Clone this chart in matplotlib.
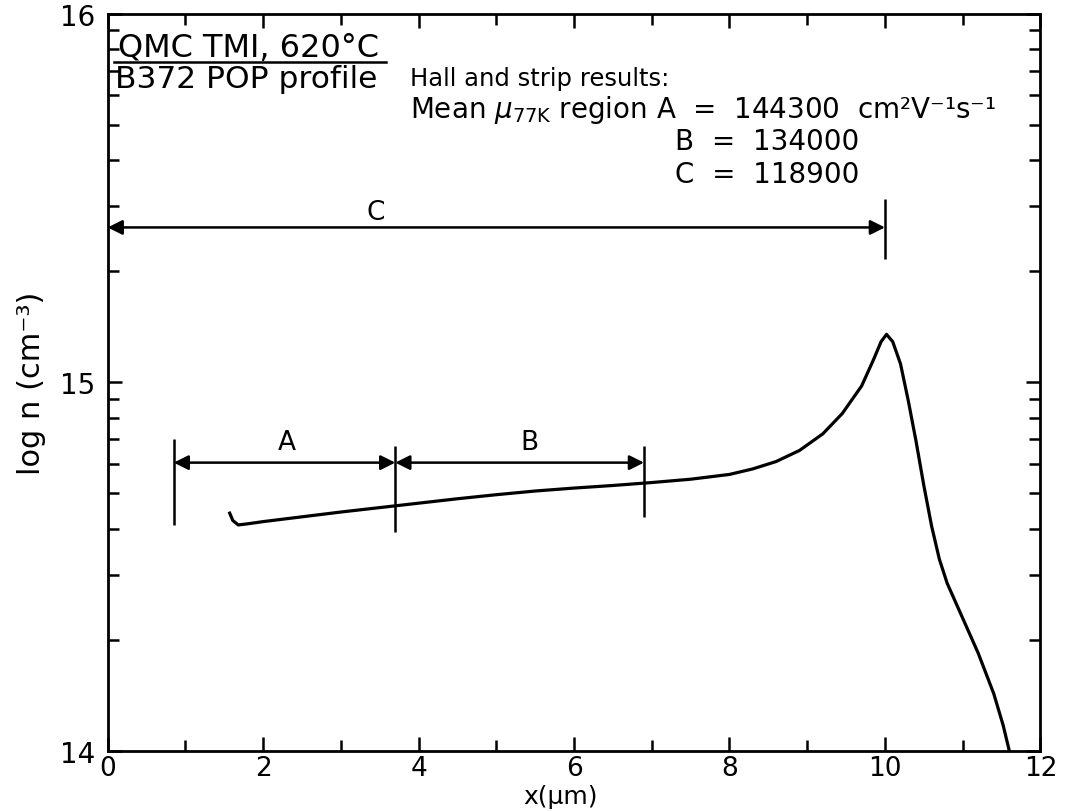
##POP profile chart, log n vs depth

#PACKAGES

import numpy as np
import matplotlib
matplotlib.use("Agg")
import matplotlib.pyplot as plt
from matplotlib.ticker import FixedLocator, LogLocator, NullFormatter, FuncFormatter

#DATA

# depth (um) and log10 of carrier concentration
depth_um = [1.57, 1.61, 1.68, 1.8, 2.0, 2.5, 3.0, 3.5, 4.0, 4.5, 5.0, 5.5, 6.0, 6.5, 7.0,
            7.5, 8.0, 8.3, 8.6, 8.9, 9.2, 9.45, 9.7, 9.85, 9.95, 10.02, 10.1, 10.2,
            10.3, 10.4, 10.5, 10.6, 10.7, 10.8, 11.0, 11.2, 11.4, 11.52, 11.6]
log_n = [14.645, 14.625, 14.613, 14.616, 14.622, 14.635, 14.648, 14.66, 14.672, 14.684,
         14.695, 14.705, 14.713, 14.72, 14.728, 14.737, 14.75, 14.765, 14.785, 14.815,
         14.86, 14.915, 14.99, 15.06, 15.11, 15.13, 15.11, 15.05, 14.95, 14.84, 14.72,
         14.61, 14.52, 14.455, 14.36, 14.265, 14.155, 14.07, 14.0]

# region bounds (um)
region_a = [0.85, 3.7]
region_b = [3.7, 6.9]
region_c = [0.0, 10.0]

results_title = "Hall and strip results:"
mobility = {"A": "144300", "B": "134000", "C": "118900"}

#CHART

plt.rcParams["font.family"] = ["DejaVu Sans"]
plt.rcParams["mathtext.fontset"] = "dejavusans"

fig = plt.figure(figsize=(10.66, 8.12), dpi=100)
ax = fig.add_axes([0.101, 0.074, 0.875, 0.908])

n = 10 ** np.array(log_n)
ax.plot(depth_um, n, color="black", lw=2.3)

ax.set_xlim(0, 12)
ax.set_yscale("log")
ax.set_ylim(1e14, 1e16)

ax.xaxis.set_major_locator(FixedLocator(np.arange(0, 13, 2)))
ax.xaxis.set_minor_locator(FixedLocator(np.arange(1, 12, 2)))
ax.yaxis.set_major_locator(FixedLocator([1e14, 1e15, 1e16]))
ax.yaxis.set_minor_locator(LogLocator(base=10, subs=np.arange(2, 10)))
ax.yaxis.set_minor_formatter(NullFormatter())
ax.yaxis.set_major_formatter(FuncFormatter(lambda v, p: f"{int(round(np.log10(v)))}"))

ax.tick_params(which="both", direction="in", top=True, right=True, width=1.8)
ax.tick_params(axis="x", pad=3, labelsize=19)
ax.tick_params(axis="y", pad=9, labelsize=20)
ax.tick_params(which="major", length=10)
ax.tick_params(which="minor", length=8)
for s in ax.spines.values():
    s.set_linewidth(2)

ax.set_xlabel("x(μm)", fontsize=18, va="bottom")
ax.xaxis.set_label_coords(0.485, -0.0775)
ax.set_ylabel("log n (cm⁻³)", fontsize=22)
ax.yaxis.set_label_coords(-0.066, 0.5)

# region markers
arrow = dict(arrowstyle="<|-|>", color="black", lw=1.8, mutation_scale=22,
             shrinkA=0, shrinkB=0)
y_ab = 10 ** 14.782
ax.vlines([region_a[0]], 10 ** 14.612, 10 ** 14.847, color="black", lw=1.8)
ax.vlines([region_a[1]], 10 ** 14.595, 10 ** 14.828, color="black", lw=1.8)
ax.vlines([region_b[1]], 10 ** 14.635, 10 ** 14.828, color="black", lw=1.8)
ax.annotate("", xy=(region_a[0], y_ab), xytext=(region_a[1], y_ab), arrowprops=arrow)
ax.annotate("", xy=(region_b[0], y_ab), xytext=(region_b[1], y_ab), arrowprops=arrow)
ax.text(2.3, 10 ** 14.82, "A", ha="center", va="baseline", fontsize=19)
ax.text(5.43, 10 ** 14.82, "B", ha="center", va="baseline", fontsize=19)

y_c = 10 ** 15.42
ax.vlines([region_c[1]], 10 ** 15.335, 10 ** 15.498, color="black", lw=1.8)
ax.annotate("", xy=(region_c[0], y_c), xytext=(region_c[1], y_c), arrowprops=arrow)
ax.text(3.45, 10 ** 15.444, "C", ha="center", va="baseline", fontsize=19)

# sample label
ax.text(0.011, 0.942, "QMC TMI, 620°C", transform=ax.transAxes, fontsize=23,
        va="baseline")
ax.plot([0.007, 0.298], [0.934, 0.934], transform=ax.transAxes, color="black", lw=1.8)
ax.text(0.008, 0.901, "B372 POP profile", transform=ax.transAxes, fontsize=22.5,
        va="baseline")

# results block
ax.text(0.324, 0.903, results_title, transform=ax.transAxes, fontsize=17.5,
        va="baseline")
ax.text(0.324, 0.860,
        r"Mean $\mu_{\mathrm{77K}}$ region A  =  " + mobility["A"] + "  cm²V⁻¹s⁻¹",
        transform=ax.transAxes, fontsize=20, va="baseline")
ax.text(0.608, 0.816, "B  =  " + mobility["B"], transform=ax.transAxes, fontsize=20,
        va="baseline")
ax.text(0.608, 0.771, "C  =  " + mobility["C"], transform=ax.transAxes, fontsize=20,
        va="baseline")

fig.savefig("out.png", dpi=100)
